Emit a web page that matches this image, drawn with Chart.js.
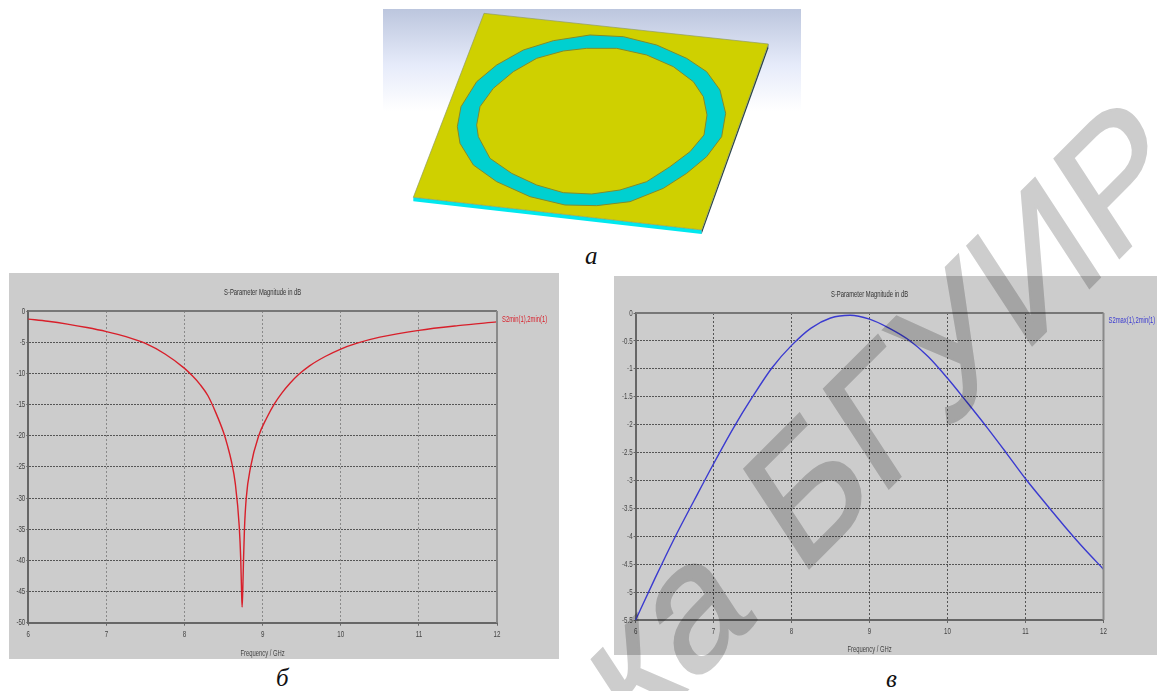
<!DOCTYPE html>
<html><head><meta charset="utf-8">
<script src="https://cdn.jsdelivr.net/npm/chart.js@4"></script>
<style>
html,body{margin:0;padding:0;background:#fff;width:1157px;height:691px;overflow:hidden}
.p{position:absolute;background:#cccccc}
.p canvas{filter:blur(.4px)}
.cap{position:absolute;font:italic 25px "Liberation Serif",serif;color:#111;line-height:25px}
#wm{position:absolute;left:0;top:0;pointer-events:none;mix-blend-mode:multiply}
svg{position:absolute;left:0;top:0}
</style></head><body>
<svg width="1157" height="270">
<defs><linearGradient id="g" x1="0" y1="0" x2="0" y2="1"><stop offset="0" stop-color="#bcc6de"/><stop offset=".55" stop-color="#e6ebfa"/><stop offset="1" stop-color="#ffffff"/></linearGradient></defs>
<rect x="383" y="9" width="418" height="102" fill="url(#g)"/>
<g transform="translate(380,0) scale(.33333)">
<polygon points="100,592 965,690 965,702 100,604" fill="#00e8ee"/>
<polygon points="1165,132 1165,145 965,702 965,690" fill="#26404a"/>
<polygon points="312,40 1165,132 965,690 100,592" fill="#cfd000" stroke="#8d9a60" stroke-width="2"/>
<polygon points="630,105 730,110 830,135 920,175 980,215 1020,270 1037,340 1025,410 980,470 920,520 850,565 750,605 650,617 555,615 450,590 350,545 280,495 240,430 232,380 243,320 290,245 350,195 430,150 520,122" fill="#00d0d0" stroke="#7f8a30" stroke-width="3"/>
<polygon points="620,145 710,145 800,165 880,200 940,245 970,290 981,345 972,405 930,455 870,500 800,545 720,570 635,582 550,578 470,555 395,520 330,475 295,410 290,375 300,320 340,265 400,215 470,175 550,153" fill="#cfd000" stroke="#7f8a30" stroke-width="3"/>
</g></svg>
<div class="cap" style="left:585px;top:243px">а</div>
<div class="cap" style="left:276px;top:665px">б</div>
<div class="cap" style="left:886px;top:666px">в</div>
<div class="p" style="left:9px;top:273px;width:550px;height:386px"><canvas id="c1"></canvas></div>
<div class="p" style="left:614px;top:276px;width:543px;height:379px"><canvas id="c2"></canvas></div>
<svg id="wm" width="1157" height="691"><text transform="matrix(.707,-.707,.547,.836,633.5,743.5)" font-family="Liberation Sans" font-size="172" fill="#cdcdcd" stroke="#cdcdcd" stroke-width="2.5">ка <tspan dx="12">БГУИР</tspan></text></svg>
<script>
const chartTitle = "S-Parameter Magnitude in dB";
const xAxisTitle = "Frequency / GHz";
const xTicks = [6,7,8,9,10,11,12];
const leftYTicks = [0,-5,-10,-15,-20,-25,-30,-35,-40,-45,-50];
const rightYTicks = [0,-0.5,-1,-1.5,-2,-2.5,-3,-3.5,-4,-4.5,-5,-5.5];
const leftLabel = "S2min(1),2min(1)";
const rightLabel = "S2max(1),2min(1)";
const leftFreq = [6,6.25,6.5,6.75,7,7.25,7.5,7.75,8,8.1,8.2,8.3,8.4,8.5,8.55,8.6,8.65,8.7,8.72,8.73,8.737,8.745,8.755,8.767,8.79,8.846,8.95,9.05,9.15,9.25,9.35,9.46,9.6,9.8,10,10.2,10.5,11,11.5,12];
const leftDb = [-1.3,-1.65,-2.1,-2.65,-3.3,-4.1,-5.2,-6.9,-9.2,-10.4,-11.8,-13.6,-16.3,-19.5,-21.6,-24.1,-27.7,-34.5,-40,-45,-47.5,-45,-40,-35,-30,-25,-20,-17.2,-14.9,-13.1,-11.6,-10.2,-8.8,-7.3,-6.1,-5.2,-4.2,-3.1,-2.35,-1.75];
const rightFreq = [6,6.25,6.5,6.75,7,7.25,7.5,7.75,8,8.25,8.5,8.75,9,9.25,9.5,9.75,10,10.25,10.5,10.75,11,11.25,11.5,11.75,12];
const rightDb = [-5.5,-4.75,-4.03,-3.36,-2.7,-2.07,-1.5,-0.98,-0.58,-0.27,-0.09,-0.04,-0.11,-0.27,-0.48,-0.78,-1.17,-1.6,-2.04,-2.5,-2.97,-3.4,-3.82,-4.22,-4.59];

const FONT = '"Liberation Sans",sans-serif';
const NARROW = 0.65;
const frame = {
  id:'frame',
  afterDatasetsDraw(chart, a, o){
    const {ctx, chartArea:c} = chart;
    ctx.save();
    ctx.strokeStyle='#777'; ctx.lineWidth=2;
    ctx.beginPath(); ctx.moveTo(c.left,c.top); ctx.lineTo(c.right,c.top); ctx.stroke();
    ctx.strokeStyle='#8a8a8a';
    ctx.beginPath(); ctx.moveTo(c.right,c.top); ctx.lineTo(c.right,c.bottom); ctx.stroke();
    const ds = chart.data.datasets[0];
    ctx.fillStyle=o.labelColor; ctx.font='9px '+FONT; ctx.textBaseline='middle'; ctx.textAlign='left';
    ctx.fillText(ds.label, c.right+5, c.top+o.labelDy);
    ctx.restore();
  }
};
function make(id, cfg){
  const pts = cfg.x.map((v,i)=>({x:v,y:cfg.y[i]}));
  const canvas = document.getElementById(id);
  const cx = canvas.getContext('2d');
  const rawFill = cx.fillText.bind(cx);
  cx.fillText = (t,x,y)=>{cx.save();cx.translate(x,y);cx.scale(NARROW,1);rawFill(t,0,0);cx.restore();};
  return new Chart(canvas,{
    type:'line',
    data:{datasets:[{label:cfg.label,data:pts,borderColor:cfg.color,borderWidth:1.4,pointRadius:0,cubicInterpolationMode:'monotone',clip:false}]},
    plugins:[frame],
    options:{
      responsive:true,maintainAspectRatio:false,animation:false,
      layout:{padding:{left:0,right:cfg.padRight,top:0,bottom:0}},
      plugins:{
        legend:{display:false},tooltip:{enabled:false},
        frame:{labelColor:cfg.color,labelDy:cfg.labelDy},
        title:{display:true,text:chartTitle,fullSize:false,color:'#333',font:{family:FONT,size:9,weight:'normal'},padding:{top:cfg.titleTop,bottom:cfg.titleBottom}}
      },
      scales:{
        x:{type:'linear',min:6,max:12,
          afterBuildTicks:s=>{s.ticks=xTicks.map(v=>({value:v}))},
          afterFit:s=>{s.height=cfg.axisH},
          title:{display:true,text:xAxisTitle,color:'#444',font:{family:FONT,size:9},padding:{top:cfg.xTitleTop,bottom:0}},
          ticks:{color:'#444',font:{family:FONT,size:9.5},maxRotation:0,padding:3,autoSkip:false,callback:v=>String(v)},
          grid:{color:cfg.vGrid,tickColor:'#666',tickLength:3},
          border:{color:'#666',width:2,dash:[2,2]}},
        y:{type:'linear',min:cfg.yMin,max:0,
          afterBuildTicks:s=>{s.ticks=cfg.yTicks.map(v=>({value:v}))},
          afterFit:s=>{s.width=cfg.axisW},
          ticks:{color:'#444',font:{family:FONT,size:9.5},padding:1,autoSkip:false,callback:v=>String(v)},
          grid:{color:'#555',tickColor:'#666',tickLength:2},
          border:{color:'#666',width:2,dash:[2,1]}}
      }
    }
  });
}
make('c1',{x:leftFreq,y:leftDb,label:leftLabel,color:'#d81f2a',yMin:-50,yTicks:leftYTicks,padRight:62,axisW:19.3,axisH:36.3,titleTop:14,titleBottom:13.2,vGrid:'#8a8a8a',labelDy:9,xTitleTop:6});
make('c2',{x:rightFreq,y:rightDb,label:rightLabel,color:'#3a3ad0',yMin:-5.5,yTicks:rightYTicks,padRight:53.5,axisW:21.6,axisH:35,titleTop:13,titleBottom:13.2,vGrid:'#555',labelDy:8,xTitleTop:5});
</script>
</body></html>
